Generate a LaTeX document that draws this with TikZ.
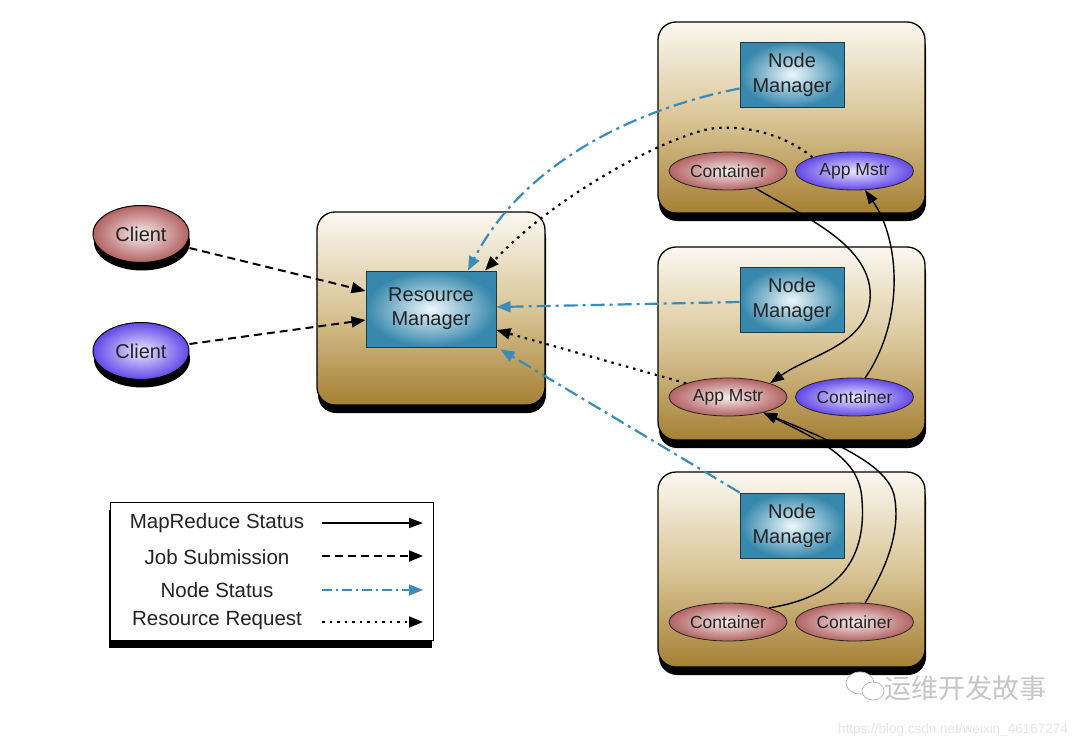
\documentclass[tikz,border=0pt]{standalone}
\usepackage{fontspec}
\setmainfont{Liberation Sans}
\newfontfamily\cjk{Noto Sans CJK SC}
\usetikzlibrary{arrows.meta,shapes.geometric,shadows}
\definecolor{nsblue}{RGB}{58,140,185}
\definecolor{boxtop}{RGB}{250,248,240}
\definecolor{boxmid}{RGB}{218,198,152}
\definecolor{boxbot}{RGB}{165,128,52}
\definecolor{mgrin}{RGB}{238,248,252}
\definecolor{mgrout}{RGB}{55,136,172}
\definecolor{mgrborder}{RGB}{25,60,75}
\definecolor{redin}{RGB}{248,238,238}
\definecolor{redout}{RGB}{178,98,98}
\definecolor{purin}{RGB}{235,232,255}
\definecolor{purout}{RGB}{98,72,232}
\definecolor{textc}{RGB}{35,35,35}
\begin{document}
\begin{tikzpicture}[x=1pt,y=-1pt,
  container/.style={draw=black, line width=1.3pt, rounded corners=18pt,
    top color=boxtop, bottom color=boxbot, middle color=boxmid, inner sep=0pt,
    drop shadow={shadow xshift=1pt, shadow yshift=-8pt, fill=black, opacity=1}},
  mgr/.style={draw=mgrborder, line width=1pt, inner color=mgrin, outer color=mgrout,
    minimum width=104pt, minimum height=65pt, inner sep=0pt, align=center,
    text=textc, font=\fontsize{20}{25}\selectfont},
  ell/.style={ellipse, draw=black!85, line width=0.8pt, minimum width=118pt,
    minimum height=38pt, inner sep=0pt, text=textc, font=\fontsize{17.5}{20}\selectfont},
  redell/.style={ell, inner color=redin, outer color=redout},
  purell/.style={ell, inner color=purin, outer color=purout},
  client/.style={ellipse, draw=black, line width=1pt, minimum width=96pt,
    minimum height=57pt, inner sep=0pt, text=textc, font=\fontsize{20}{24}\selectfont,
    drop shadow={shadow xshift=1pt, shadow yshift=-8pt, fill=black, opacity=1}},
  legtext/.style={text=textc, font=\fontsize{20.5}{24}\selectfont, inner sep=0pt},
  mr/.style={draw=black, line width=1.4pt, -{Triangle[length=14pt,width=10pt]}},
  job/.style={draw=black, line width=2pt, dash pattern=on 8pt off 5pt,
    -{Triangle[length=14pt,width=11pt]}},
  ns/.style={draw=nsblue, line width=2.2pt, dash pattern=on 14pt off 5pt on 3pt off 5pt,
    -{Triangle[length=14pt,width=11pt,fill=nsblue]}},
  rr/.style={draw=black, line width=2.2pt, dash pattern=on 2.5pt off 5pt,
    -{Triangle[length=14pt,width=11pt]}}
]
\useasboundingbox[fill=white] (0,0) rectangle (1080,736);

% containers
\node[container, minimum width=228pt, minimum height=193pt] (rmbox) at (431,308.5) {};
\node[container, minimum width=267pt, minimum height=191pt] (box1) at (791.5,117.5) {};
\node[container, minimum width=267pt, minimum height=193pt] (box2) at (791.5,343.5) {};
\node[container, minimum width=267pt, minimum height=195pt] (box3) at (791.5,569.5) {};

% managers
\node[mgr, minimum width=130pt, minimum height=76pt, font=\fontsize{20}{24}\selectfont] (rm) at (431,309) {Resource\\Manager};
\node[mgr] (nm1) at (792,74.5) {Node\\Manager};
\node[mgr] (nm2) at (792,300) {Node\\Manager};
\node[mgr] (nm3) at (792,525.5) {Node\\Manager};

% ellipses
\node[redell] (c1) at (728,171) {Container};
\node[purell] (am1) at (854.5,171) {App Mstr};
\node[redell] (am2) at (728,397) {App Mstr};
\node[purell] (c2) at (854.5,397) {Container};
\node[redell] (c3) at (728,622) {Container};
\node[redell] (c4) at (854.5,622) {Container};

% clients
\node[client, inner color=redin, outer color=redout] (client1) at (141,234) {Client};
\node[client, inner color=purin, outer color=purout] (client2) at (141,351) {Client};

% job submission
\draw[job] ([yshift=-14pt]client1.east) -- ([yshift=18pt]rm.west);
\draw[job] ([yshift=7pt]client2.east) -- ([yshift=-11pt]rm.west);

% node status
\draw[ns] ([yshift=-14pt]nm1.west) .. controls (640,108) and (525,160) .. ([xshift=37pt]rm.north);
\draw[ns] ([yshift=-2pt]nm2.west) -- ([yshift=2pt]rm.east);
\draw[ns] (nm3.north west) -- ([xshift=4pt,yshift=-2pt]rm.south east);

% resource request
\draw[rr] (am1.north west) .. controls (785,135) and (750,126) .. (717,128)
  .. controls (680,130) and (560,190) .. ([xshift=54pt]rm.north);
\draw[rr] (am2.north west) -- ([yshift=-21pt]rm.east);

% mapreduce status
\draw[mr] (c1.-32) .. controls (800,215) and (875,245) .. (870,300)
  .. controls (866,345) and (810,355) .. (am2.north east);
\draw[mr] (c2.61) .. controls (905,320) and (900,240) .. (am1.-61);
\draw[mr] (c3.19) .. controls (820,600) and (868,575) .. (862,500)
  .. controls (860,462) and (830,445) .. (am2.-24);
\draw[mr] (c4.61) .. controls (885,570) and (900,535) .. (895,500)
  .. controls (892,470) and (850,448) .. (am2.-24);

% legend
\node[draw=black, line width=1pt, fill=white, minimum width=323pt, minimum height=138pt,
  drop shadow={shadow xshift=-1pt, shadow yshift=-8pt, fill=black, opacity=1}] (legend) at (271.5,571) {};
\node[legtext] (lt1) at (217,523) {MapReduce Status};
\node[legtext] (lt2) at (217,557) {Job Submission};
\node[legtext] (lt3) at (217,590) {Node Status};
\node[legtext] (lt4) at (217,621) {Resource Request};
\coordinate (la1) at (322,523); \coordinate (lb1) at (423,523);
\coordinate (la2) at (322,556); \coordinate (lb2) at (423,556);
\coordinate (la3) at (322,590); \coordinate (lb3) at (423,590);
\coordinate (la4) at (322,622); \coordinate (lb4) at (423,622);
\draw[mr] (la1) -- (lb1);
\draw[job] (la2) -- (lb2);
\draw[ns, line width=1.6pt, dash pattern=on 10pt off 4pt on 2pt off 4pt] (la3) -- (lb3);
\draw[rr, line width=1.8pt] (la4) -- (lb4);

% watermark
\draw[gray!55, fill=white, line width=0.8pt] (860,683) ellipse (14 and 11);
\draw[gray!55, fill=white, line width=0.8pt] (873,691) ellipse (11 and 9);
\node[text=gray!45, font=\cjk\fontsize{27}{27}\selectfont, inner sep=0pt] (wm) at (965,688) {运维开发故事};
\node[text=gray!20, font=\fontsize{13.5}{14}\selectfont, inner sep=0pt] (url) at (953,730) {https://blog.csdn.net/weixin\_46167274};
\end{tikzpicture}
\end{document}
